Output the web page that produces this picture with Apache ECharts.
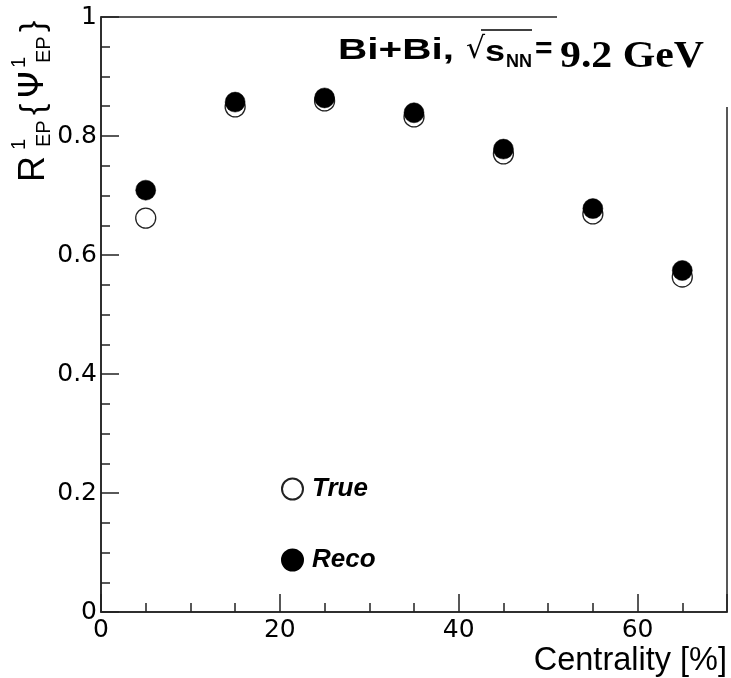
<!DOCTYPE html>
<html><head><meta charset="utf-8">
<script src="https://cdn.jsdelivr.net/npm/echarts@6/dist/echarts.min.js"></script>
<style>html,body{margin:0;padding:0;background:#fff}#c{width:731px;height:678px}</style>
</head><body><div id="c"></div>
<script>
const centrality = [5, 15, 25, 35, 45, 55, 65];
const trueVals = [0.662, 0.849, 0.859, 0.832, 0.770, 0.669, 0.563];
const recoVals = [0.709, 0.857, 0.864, 0.839, 0.778, 0.678, 0.574];
const seriesNames = ['True', 'Reco'];
const xTitle = 'Centrality [%]';

const chart = echarts.init(document.getElementById('c'), null, {renderer: 'canvas'});
const F = '"Liberation Sans", Arial, sans-serif';
const FD = '"DejaVu Sans", sans-serif';
const axisCol = '#222';

const yTitle = [
  {t: 'R', x: 0, y: 0, f: '36px ' + F},
  {t: '1', x: 32, y: -15, f: '20px ' + F},
  {t: 'EP', x: 35, y: 10, f: '20px ' + F},
  {t: '{', x: 67, y: 0, f: '34px ' + F},
  {t: 'Ψ', x: 84, y: 0, f: '34px ' + FD},
  {t: '1', x: 114, y: -15, f: '20px ' + F},
  {t: 'EP', x: 119, y: 10, f: '20px ' + F},
  {t: '}', x: 150, y: 0, f: '34px ' + F}
];

chart.setOption({
  animation: false,
  backgroundColor: '#fff',
  grid: {left: 101, right: 4, top: 17, bottom: 66, show: true, borderColor: axisCol, borderWidth: 1.5, backgroundColor: 'transparent'},
  legend: {
    orient: 'vertical', left: 276, top: 471, itemGap: 45, itemWidth: 21, itemHeight: 21,
    data: seriesNames,
    textStyle: {fontFamily: F, fontSize: 26, fontWeight: 'bold', fontStyle: 'italic', color: '#000', padding: [0, 0, 0, 4]}
  },
  xAxis: {
    type: 'value', min: 0, max: 70, interval: 20,
    name: xTitle, nameLocation: 'end', nameGap: 0,
    nameTextStyle: {fontFamily: F, fontSize: 32.5, color: '#000', align: 'right', verticalAlign: 'top', padding: [33, 0, 0, 0]},
    axisLine: {show: true, onZero: false, lineStyle: {color: axisCol, width: 1.5}},
    axisTick: {show: true, inside: true, length: 18, lineStyle: {color: axisCol, width: 1.5}},
    minorTick: {show: true, splitNumber: 4, length: 9, lineStyle: {color: axisCol, width: 1.5}},
    axisLabel: {fontFamily: FD, fontSize: 25, color: '#000', margin: 6, showMaxLabel: false},
    splitLine: {show: false}
  },
  yAxis: {
    type: 'value', min: 0, max: 1, interval: 0.2,
    axisLine: {show: true, onZero: false, lineStyle: {color: axisCol, width: 1.5}},
    axisTick: {show: true, inside: true, length: 18, lineStyle: {color: axisCol, width: 1.5}},
    minorTick: {show: true, splitNumber: 4, length: 9, lineStyle: {color: axisCol, width: 1.5}},
    axisLabel: {fontFamily: FD, fontSize: 25, color: '#000', margin: 4},
    splitLine: {show: false}
  },
  series: [
    {
      name: seriesNames[0], type: 'scatter', symbol: 'circle', symbolSize: 20,
      itemStyle: {color: '#fff', borderColor: '#222', borderWidth: 1.3, opacity: 1},
      data: centrality.map((c, i) => [c, trueVals[i]]), z: 3
    },
    {
      name: seriesNames[1], type: 'scatter', symbol: 'circle', symbolSize: 20,
      itemStyle: {color: '#000', borderColor: '#000', borderWidth: 0.5, opacity: 1},
      data: centrality.map((c, i) => [c, recoVals[i]]), z: 4
    }
  ],
  graphic: [
    {
      type: 'group', x: 34, y: 182, rotation: Math.PI / 2, z: 20,
      children: yTitle.map(e => ({
        type: 'text', x: e.x, y: e.y,
        style: {text: e.t, font: e.f, fill: '#000', textAlign: 'left', textVerticalAlign: 'middle'}
      }))
    },
    {type: 'rect', shape: {x: 557, y: 0, width: 174, height: 107}, style: {fill: '#fff'}, z: 15},
    {type: 'text', x: 338, y: 51, scaleX: 1.35, z: 20, style: {text: 'Bi+Bi,', font: 'bold 30px ' + F, fill: '#000', textVerticalAlign: 'middle'}},
    {type: 'text', x: 466, y: 50, z: 20, style: {text: '√', font: '30px ' + FD, fill: '#000', textVerticalAlign: 'middle'}},
    {type: 'line', shape: {x1: 481, y1: 30, x2: 532, y2: 30}, style: {stroke: '#000', lineWidth: 1.3}, z: 20},
    {type: 'text', x: 485, y: 53, scaleX: 1.2, z: 20, style: {text: 's', font: 'bold 30px ' + F, fill: '#000', textVerticalAlign: 'middle'}},
    {type: 'text', x: 506, y: 62, z: 20, style: {text: 'NN', font: 'bold 18px ' + F, fill: '#000', textVerticalAlign: 'middle'}},
    {type: 'text', x: 535, y: 50, z: 20, style: {text: '=', font: 'bold 30px ' + F, fill: '#000', textVerticalAlign: 'middle'}},
    {type: 'text', x: 560, y: 57, scaleX: 1.1, z: 20, style: {text: '9.2 GeV', font: 'bold 38px "Liberation Serif", serif', fill: '#000', textVerticalAlign: 'middle'}}
  ]
});
</script>
</body></html>
